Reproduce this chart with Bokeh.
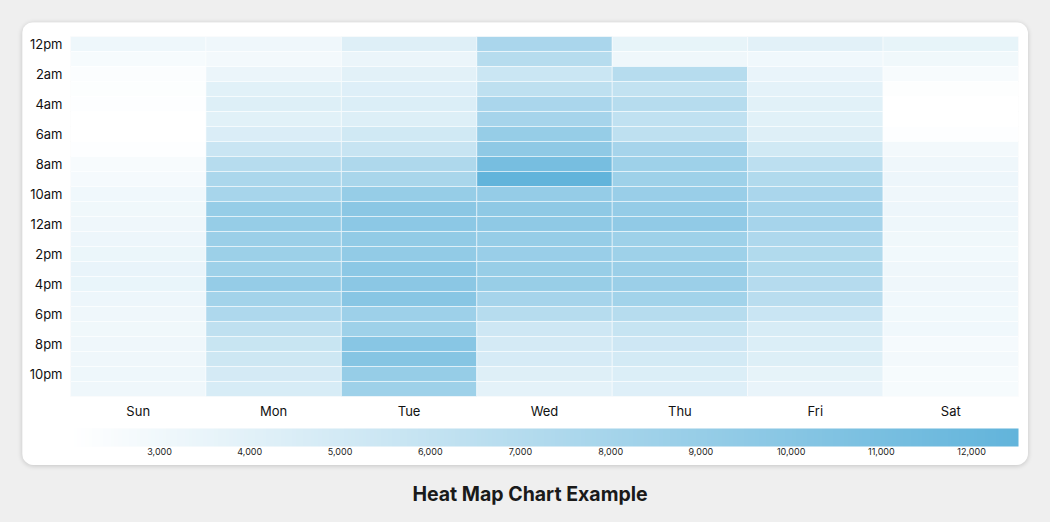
from bokeh.plotting import figure
from bokeh.models import (ColumnDataSource, LinearColorMapper, ColorBar, Range1d,
                          FixedTicker, NumeralTickFormatter, Div)
from bokeh.layouts import column
from bokeh.embed import file_html
from bokeh.resources import INLINE

days = ["Sun", "Mon", "Tue", "Wed", "Thu", "Fri", "Sat"]
hour_labels = ["12pm", "2am", "4am", "6am", "8am", "10am",
               "12am", "2pm", "4pm", "6pm", "8pm", "10pm"]
cbar_ticks = [3000, 4000, 5000, 6000, 7000, 8000, 9000, 10000, 11000, 12000]

sun = [3150, 2600, 2300, 2250, 2150, 2050, 2013, 2150, 2550, 2700, 3000, 3050,
       3100, 3250, 3350, 3500, 3450, 3250, 3100, 3050, 3100, 3100, 3150, 3100]
mon = [3100, 2800, 3400, 4050, 4350, 4000, 4500, 5600, 6900, 7600, 7900, 9000,
       9000, 8700, 8600, 8500, 9100, 8200, 7400, 6300, 5700, 5400, 4900, 4700]
tue = [4250, 3400, 3950, 4200, 4400, 4300, 5150, 5750, 7450, 7800, 9000, 9800,
       9700, 9300, 9300, 9700, 9800, 10000, 8550, 8500, 10000, 10100, 9000, 8500]
wed = [7700, 6900, 5550, 6400, 7700, 8000, 9000, 9500, 11100, 12520, 9100, 9500,
       9500, 9000, 8800, 8900, 8900, 8000, 6900, 5300, 4900, 4800, 4250, 3850]
thu = [3650, 3100, 6900, 6100, 6900, 6200, 6400, 8000, 8500, 8500, 8800, 9100,
       9400, 8500, 8500, 8700, 8700, 8250, 6900, 5800, 5300, 5000, 4400, 4200]
fri = [3950, 3000, 3500, 3850, 4000, 4050, 4250, 5150, 6500, 7200, 7700, 8000,
       8000, 7400, 7200, 7200, 7000, 6700, 5600, 4700, 4400, 4350, 3700, 3500]
sat = [3650, 3050, 2550, 2200, 2050, 2013, 2150, 2800, 3100, 3250, 3100, 3250,
       3150, 3050, 2950, 3100, 3100, 3000, 2950, 3000, 2750, 2800, 2600, 2600]

series = [sun, mon, tue, wed, thu, fri, sat]

xs, ys, vals = [], [], []
for d, vlist in zip(days, series):
    for h, v in enumerate(vlist):
        xs.append(d)
        ys.append(h)
        vals.append(v)
source = ColumnDataSource(dict(day=xs, hour=ys, value=vals))

# white -> blue linear palette
lo_rgb = (255, 255, 255)
hi_rgb = (98, 180, 219)
palette = []
for i in range(256):
    t = i / 255
    r, g, b = (round(lo_rgb[k] + (hi_rgb[k] - lo_rgb[k]) * t) for k in range(3))
    palette.append("#%02x%02x%02x" % (r, g, b))

mapper = LinearColorMapper(palette=palette, low=min(vals), high=max(vals))

FONT = "Inter"

p = figure(x_range=days, y_range=Range1d(23.5, -0.5),
           frame_width=948, frame_height=360,
           min_border_left=48, min_border_right=10, min_border_top=14,
           min_border_bottom=69,
           output_backend="svg", toolbar_location=None,
           background_fill_color="white", border_fill_color="white",
           outline_line_color=None,
           styles={"border-radius": "12px", "overflow": "hidden",
                   "box-shadow": "0 1px 5px rgba(0,0,0,0.18)"})

p.rect(x="day", y="hour", width=1, height=1, source=source,
       fill_color={"field": "value", "transform": mapper},
       line_color="white", line_alpha=0.5, line_width=1)

p.grid.grid_line_color = None

p.yaxis.ticker = FixedTicker(ticks=list(range(0, 24, 2)))
p.yaxis.major_label_overrides = {i * 2: lab for i, lab in enumerate(hour_labels)}
for ax in (p.xaxis[0], p.yaxis[0]):
    ax.axis_line_color = None
    ax.major_tick_line_color = None
    ax.minor_tick_line_color = None
    ax.major_tick_out = 0
    ax.major_tick_in = 0
    ax.minor_tick_out = 0
    ax.major_label_text_font = FONT
    ax.major_label_text_font_size = "13px"
    ax.major_label_text_color = "#111111"
p.yaxis.major_label_standoff = 8
p.xaxis.major_label_standoff = 6

cb = ColorBar(color_mapper=mapper, orientation="horizontal", height=18,
              ticker=FixedTicker(ticks=cbar_ticks),
              formatter=NumeralTickFormatter(format="0,0"),
              major_tick_line_color=None, minor_tick_line_color=None,
              major_tick_out=0, major_tick_in=0,
              bar_line_color=None, border_line_color=None,
              background_fill_color=None,
              title=" ", title_text_font_size="2px", title_standoff=3,
              major_label_text_font=FONT, major_label_text_font_size="9px",
              major_label_text_color="#222222",
              label_standoff=1, padding=0, margin=0)
p.add_layout(cb, "below")

title = Div(text="Heat Map Chart Example", width=1006, height=30,
            styles={"font-family": "Inter", "font-weight": "700",
                    "font-size": "19.5px", "color": "#1a1a1a",
                    "text-align": "center", "width": "1006px",
                    "margin-top": "16px"})

layout = column(p, title,
                styles={"background-color": "#efefef", "margin": "-8px",
                        "padding": "30px 30px 40px 30px"})

open("out.html", "w").write(file_html(layout, INLINE))
